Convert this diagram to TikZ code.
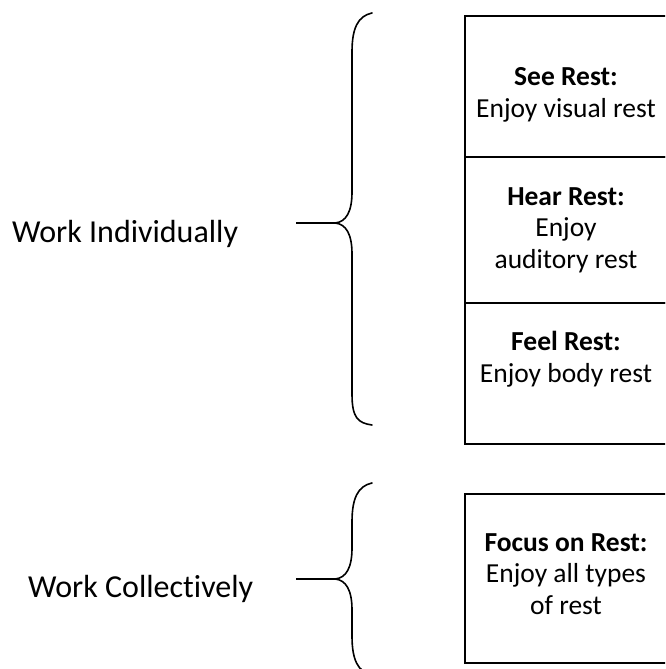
\documentclass[tikz,border=0pt]{standalone}
\usepackage{fontspec}
\setmainfont[Ligatures={NoCommon}]{Carlito}
\begin{document}
\begin{tikzpicture}[x=1pt,y=-1pt,
  cell/.style={draw, line width=2.4pt, minimum width=204pt, inner sep=0pt, anchor=north west},
  celltext/.style={align=center, font=\fontsize{27.5}{31.5}\selectfont, inner sep=0pt},
  lefttext/.style={font=\fontsize{32}{38}\selectfont, inner sep=0pt, anchor=base west},
  brace/.style={line width=1.6pt, line cap=round},
  stem/.style={line width=1.6pt},
]
\useasboundingbox (0,0) rectangle (665,669);
\clip (0,0) rectangle (665,669);

% cells
\node[cell, minimum height=141pt] (c1) at (464,15) {};
\node[cell, minimum height=146pt] (c2) at (464,156) {};
\node[cell, minimum height=141pt] (c3) at (464,302) {};
\node[cell, minimum height=169pt] (c4) at (464,493) {};

% cell texts
\node[celltext] (t1) at (566,95) {\textbf{See Rest:}\\Enjoy visual rest};
\node[celltext] (t2) at (566,230) {\textbf{Hear Rest:}\\Enjoy\\auditory rest};
\node[celltext] (t3) at (566,359) {\textbf{Feel Rest:}\\Enjoy body rest};
\node[celltext] (t4) at (566,574) {\textbf{Focus on Rest:}\\Enjoy all types\\of rest};

% left labels
\node[lefttext] (w1) at (12,242) {Work Individually};
\node[lefttext] (w2) at (28,597) {Work Collectively};

% braces
\coordinate (tip1) at (335,223);
\coordinate (stem1) at (296,223);
\draw[brace] (372,13) .. controls (358,16) and (352,28) .. (352,52) -- (352,192)
  .. controls (352,212) and (346,222) .. (tip1)
  .. controls (346,224) and (352,234) .. (352,254) -- (352,394)
  .. controls (352,418) and (358,423) .. (372,425);
\draw[stem] (stem1) -- (tip1);

\coordinate (tip2) at (335,579);
\coordinate (stem2) at (296,579);
\draw[brace] (372,483) .. controls (358,486) and (352,498) .. (352,522) -- (352,548)
  .. controls (352,568) and (346,578) .. (tip2)
  .. controls (346,580) and (352,590) .. (352,610) -- (352,636)
  .. controls (352,660) and (358,672) .. (372,675);
\draw[stem] (stem2) -- (tip2);
\end{tikzpicture}
\end{document}
